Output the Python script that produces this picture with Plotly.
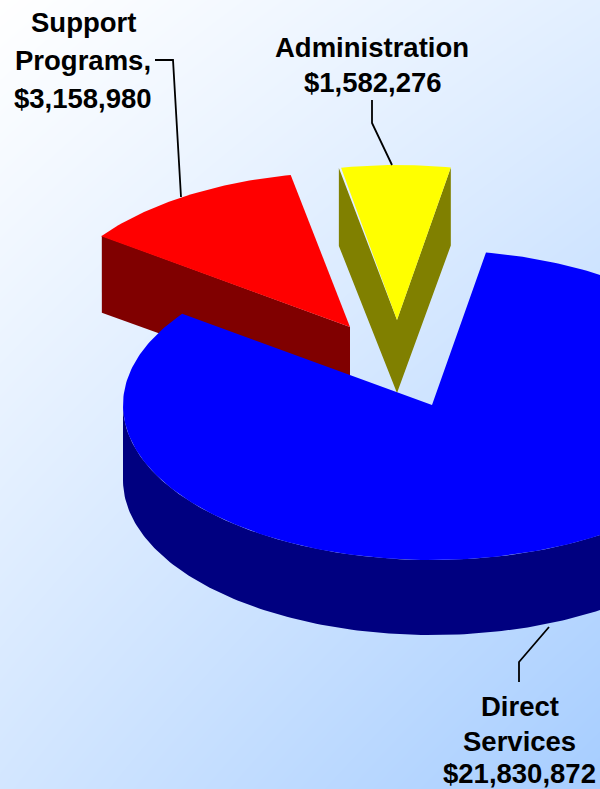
import numpy as np
import plotly.graph_objects as go

# --- data ---
categories = ["Administration", "Support Programs", "Direct Services"]
values = [1582276, 3158980, 21830872]
top_colors = ["#ffff00", "#ff0000", "#0000ff"]
side_colors = ["#808000", "#800000", "#000080"]
label_lines = [
    ["Administration", "$1,582,276"],
    ["Support", "Programs,", "$3,158,980"],
    ["Direct", "Services", "$21,830,872"],
]

# --- chart geometry ---
W, H = 600, 789
start_deg = 79.7
radii_x = [301, 307, 309]
ry = 155
rim_depth = [78, 77, 75]
tip_depth = [73, 75, 75]
centres = [(397, 320), (350, 327), (432, 405)]
label_xy = [
    [(372, 47), (373, 82)],
    [(83, 22), (83, 60), (83, 98)],
    [(520, 706), (519, 741), (519, 773.5)],
]
leaders = [
    ([392, 372, 372], [165, 123, 100]),
    ([181, 173, 155], [197, 60, 60]),
    ([549, 519, 519], [627, 662, 682]),
]

vals = np.array(values, dtype=float)
edges = start_deg + np.concatenate([[0], np.cumsum(vals / vals.sum() * 360)])


def rim(i, a0, a1, step=1.0):
    t = np.radians(np.arange(a0, a1 + step / 2, step))
    c = centres[i]
    return c[0] + radii_x[i] * np.cos(t), c[1] - ry * np.sin(t)


def add_poly(fig, x, y, color):
    fig.add_trace(go.Scatter(x=list(x), y=list(y), mode="lines", fill="toself",
                             fillcolor=color, line=dict(width=0, color=color),
                             hoverinfo="skip", showlegend=False))


fig = go.Figure()

# background gradient
gx = np.array([0, W])
gy = np.array([0, H])
fig.add_trace(go.Heatmap(
    x=gx, y=gy, z=[[0.0, 0.32], [0.5, 1.0]], zsmooth="best", showscale=False,
    hoverinfo="skip", zmin=0, zmax=1,
    colorscale=[[0, "#ffffff"], [1, "#a6cdff"]],
))


def wedge(i):
    c = centres[i]
    ax, ay = rim(i, edges[i], edges[i + 1])
    return np.r_[c[0], ax, c[0]], np.r_[c[1], ay, c[1]]


# red slice: front radial wall
i = 1
c = centres[i]
ax, ay = rim(i, edges[i + 1], edges[i + 1])
add_poly(fig, [c[0], ax[0], ax[0], c[0], c[0]],
         [c[1], ay[0], ay[0] + rim_depth[i], c[1] + tip_depth[i], c[1]], side_colors[i])
add_poly(fig, *wedge(i), top_colors[i])

# yellow slice: two radial walls
i = 0
c = centres[i]
ax, ay = rim(i, edges[i], edges[i + 1], step=edges[i + 1] - edges[i])
add_poly(fig, [ax[1], ax[1], c[0], ax[0], ax[0], c[0], ax[1]],
         [ay[1], ay[1] + rim_depth[i], c[1] + tip_depth[i], ay[0] + rim_depth[i], ay[0], c[1], ay[1]],
         side_colors[i])
add_poly(fig, *wedge(i), top_colors[i])

# blue slice: outer wall, then top
i = 2
ox, oy = rim(i, 180, 360)
add_poly(fig, np.r_[ox, ox[::-1]], np.r_[oy, oy[::-1] + rim_depth[i]], side_colors[i])
add_poly(fig, *wedge(i), top_colors[i])

# leader lines
for lx, ly in leaders:
    fig.add_trace(go.Scatter(x=lx, y=ly, mode="lines", hoverinfo="skip", showlegend=False,
                             line=dict(color="#000000", width=1.8)))

# labels
annotations = []
for lines, pos in zip(label_lines, label_xy):
    for text, (tx, ty) in zip(lines, pos):
        annotations.append(dict(
            x=tx, y=ty, text="<b>%s</b>" % text, showarrow=False, xanchor="center",
            yanchor="middle", font=dict(family="Liberation Sans", size=27.5, color="#000000"),
        ))

fig.update_layout(
    width=W, height=H, margin=dict(l=0, r=0, t=0, b=0),
    paper_bgcolor="#ffffff", plot_bgcolor="#ffffff", showlegend=False,
    xaxis=dict(range=[0, W], visible=False, fixedrange=True),
    yaxis=dict(range=[H, 0], visible=False, fixedrange=True),
    annotations=annotations,
)
fig.write_html("out.html", config={"displayModeBar": False},
               post_script="document.body.style.margin='0';document.body.style.overflow='hidden';")
